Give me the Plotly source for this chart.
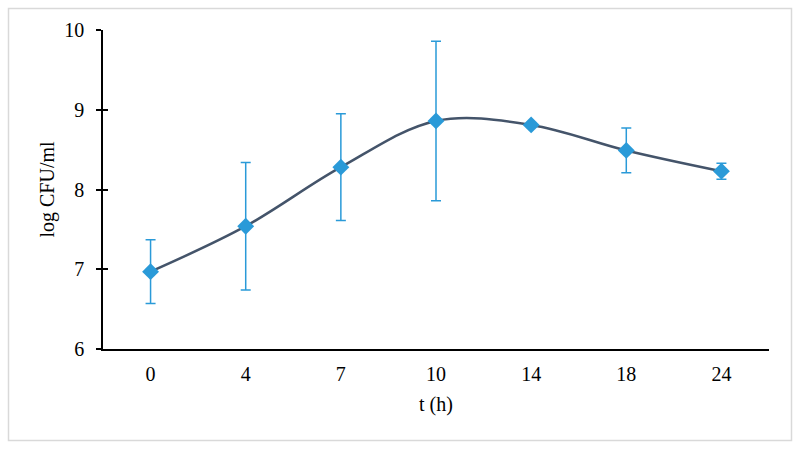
import plotly.graph_objects as go

categories = ["0", "4", "7", "10", "14", "18", "24"]
values = [6.97, 7.54, 8.28, 8.86, 8.81, 8.49, 8.23]
errors = [0.40, 0.80, 0.67, 1.00, 0.03, 0.28, 0.10]
y_ticks = [6, 7, 8, 9, 10]

L, R, T, B = 103, 31, 30, 100
W, H = 800, 449
pw, ph = W - L - R, H - T - B

fig = go.Figure()
fig.add_trace(go.Scatter(
    x=categories, y=values, mode="lines",
    line=dict(color="#44546A", width=2.5, shape="spline", smoothing=1.0),
    hoverinfo="skip", showlegend=False))
fig.add_trace(go.Scatter(
    x=categories, y=values, mode="markers",
    marker=dict(symbol="diamond", size=13, color="#2A9AD8"),
    error_y=dict(type="data", array=errors, visible=True, color="#2A9AD8",
                 thickness=1.5, width=5),
    showlegend=False))

font = dict(family="Liberation Serif, Times New Roman, serif", size=20, color="#000000")
fig.update_layout(
    width=W, height=H,
    margin=dict(l=L, r=R, t=T, b=B),
    paper_bgcolor="white", plot_bgcolor="white",
    font=font,
    xaxis=dict(type="category", range=[-0.5, 6.5], showgrid=False, zeroline=False,
               showline=True, linecolor="black", linewidth=1.5, ticks="",
               ticklabelstandoff=6,
               title=dict(text="t (h)", font=font, standoff=13), tickfont=font),
    yaxis=dict(range=[6, 10], tickvals=y_ticks, showgrid=False, zeroline=False,
               showline=True, linecolor="black", linewidth=1.5,
               ticks="outside", ticklen=5, tickwidth=1.5, tickcolor="black",
               ticklabelstandoff=8,
               title=dict(text="log CFU/ml", font=font, standoff=4), tickfont=font),
    yaxis2=dict(range=[6, 10], tickvals=y_ticks, overlaying="y", side="left",
                showgrid=False, zeroline=False, showline=False, showticklabels=False,
                ticks="inside", ticklen=5, tickwidth=1.5, tickcolor="black"),
)
fig.add_trace(go.Scatter(x=[categories[0]], y=[6], yaxis="y2", mode="markers",
                         marker=dict(opacity=0), hoverinfo="skip", showlegend=False))

fig.add_shape(type="rect", xref="paper", yref="paper",
              x0=(8.5 - L) / pw, x1=(791.5 - L) / pw,
              y0=(H - B - 440.5) / ph, y1=(H - B - 8.5) / ph,
              line=dict(color="#D9D9D9", width=1.5), layer="below")

fig.write_html("out.html", config={"displayModeBar": False},
               post_script="document.body.style.margin='0';document.body.style.overflow='hidden';")
